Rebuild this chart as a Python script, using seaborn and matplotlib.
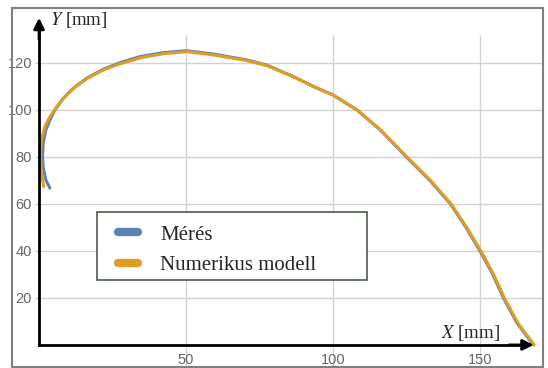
import matplotlib
matplotlib.use("Agg")
import matplotlib.pyplot as plt
import seaborn as sns
import pandas as pd
from matplotlib.patches import Rectangle
from matplotlib.legend_handler import HandlerLine2D

# ---- data ----
meres_x = [3.7, 2.3, 1.4, 1.2, 1.4, 2.3, 3.7, 5.4, 8.2, 11.6, 16.2, 21.8, 27.5, 34.3,
           42.3, 50.2, 59.4, 70.7, 77.5, 86.6, 93.4, 100.0, 108.2, 116.1, 124.9,
           133.0, 140.0, 145.3, 150.2, 154.4, 158.2, 162.7, 168.2]
meres_y = [66.7, 70.2, 75.9, 80.1, 85.8, 91.5, 95.7, 100.0, 104.9, 109.2, 113.5,
           117.3, 120.1, 122.7, 124.4, 125.2, 123.8, 121.3, 119.1, 114.2, 110.0,
           106.4, 100.0, 91.5, 80.1, 70.0, 60.0, 50.0, 39.7, 30.0, 19.6, 9.2, 0.0]
model_x = [1.6, 0.8, 0.5, 0.8, 2.0, 3.7, 5.7, 8.6, 12.0, 16.6, 22.2, 28.0, 34.8,
           42.6, 50.3, 59.5, 70.8, 77.7, 86.8, 93.6, 100.3, 108.5, 116.4, 125.2,
           133.3, 140.3, 145.6, 150.5, 154.7, 158.5, 163.0, 168.5]
model_y = [67.4, 73.0, 80.0, 87.2, 92.9, 97.1, 100.8, 105.4, 109.5, 113.6, 117.2,
           119.8, 122.3, 124.0, 124.8, 123.4, 121.0, 118.8, 114.0, 109.8, 106.2,
           99.8, 91.3, 80.0, 69.9, 59.9, 49.9, 39.7, 30.0, 19.6, 9.2, 0.0]
series_names = ["Mérés", "Numerikus modell"]
x_ticks = [50, 100, 150]
y_ticks = [20, 40, 60, 80, 100, 120]
x_label = "$X$ [mm]"
y_label = "$Y$ [mm]"

BLUE = "#5E81B5"
ORANGE = "#E19C24"

sns.set_theme(style="white")
plt.rcParams['font.family'] = ['Liberation Sans', 'DejaVu Sans']
plt.rcParams['mathtext.fontset'] = 'stix'

df = pd.concat([
    pd.DataFrame({"x": meres_x, "y": meres_y, "series": series_names[0]}),
    pd.DataFrame({"x": model_x, "y": model_y, "series": series_names[1]}),
], ignore_index=True)

W, H = 548, 368
AX_L, AX_T, AX_R, AX_B = 12, 8, 543, 367
fig = plt.figure(figsize=(W / 100, H / 100), dpi=100)
ax = fig.add_axes([AX_L / W, 1 - AX_B / H, (AX_R - AX_L) / W, (AX_B - AX_T) / H])

sns.lineplot(data=df, x="x", y="y", hue="series", palette=[BLUE, ORANGE],
             sort=False, estimator=None, lw=2.2, ax=ax, zorder=3)
for ln in ax.get_lines():
    ln.set_solid_joinstyle("round")
    ln.set_solid_capstyle("round")

ax.set_xlim(-9.2, 171.5)
ax.set_ylim(-9.4, 143.4)

# grid
ax.hlines(y_ticks, -1.5, 171.5, color="#d2d2d2", lw=1.0, zorder=0)
ax.vlines(x_ticks, -9.4, 132, color="#d2d2d2", lw=1.0, zorder=0)

# axes through origin
for s in ["top", "right"]:
    ax.spines[s].set_visible(False)
ax.spines["left"].set_position(("data", 0))
ax.spines["bottom"].set_position(("data", 0))
ax.spines["left"].set_bounds(0, 134)
ax.spines["bottom"].set_bounds(0, 163)
for s in ["left", "bottom"]:
    ax.spines[s].set_color("black")
    ax.spines[s].set_linewidth(2)
    ax.spines[s].set_zorder(4)
ax.annotate("", xy=(0, 139.2), xytext=(0, 130), xycoords="data",
            arrowprops=dict(arrowstyle="-|>", mutation_scale=16, color="black", lw=2,
                            shrinkA=0, shrinkB=0), zorder=5)
ax.annotate("", xy=(168.3, 0), xytext=(160, 0), xycoords="data",
            arrowprops=dict(arrowstyle="-|>", mutation_scale=16, color="black", lw=2,
                            shrinkA=0, shrinkB=0), zorder=5)

ax.set_xticks(x_ticks)
ax.set_yticks(y_ticks)
ax.set_xticks(range(0, 170, 10), minor=True)
ax.set_yticks(range(0, 140, 10), minor=True)
ax.tick_params(axis="both", which="major", direction="out", length=4, width=0.8,
               color="#888888", labelcolor="#666666", labelsize=10.5)
ax.tick_params(axis="both", which="minor", direction="in", length=2.5, width=0.6,
               color="#999999")
ax.tick_params(axis="y", which="major", pad=1)
ax.tick_params(axis="x", which="major", pad=1.5)
ax.set_xlabel("")
ax.set_ylabel("")

ax.text(3.7, 136.0, y_label, family="Liberation Serif", fontsize=13.5, va="baseline",
        ha="left")
ax.text(157.0, 3.0, x_label, family="Liberation Serif", fontsize=13.5, va="baseline",
        ha="right")

# outer frame
ax.add_patch(Rectangle((0, 0), 1, 1, transform=ax.transAxes, fill=False,
                       edgecolor="#808080", lw=1.5, clip_on=False, zorder=6))


def fx(px):
    return (px - AX_L) / (AX_R - AX_L)


def fy(py):
    return (AX_B - py) / (AX_B - AX_T)


# legend frame (drawn separately) and legend
ax.add_patch(Rectangle((fx(97), fy(280)), fx(367) - fx(97), fy(212) - fy(280),
                       transform=ax.transAxes, facecolor="white", edgecolor="#4d5e4d",
                       lw=1.2, zorder=6.5))
handles, labels = ax.get_legend_handles_labels()
leg = ax.legend(handles, labels, loc="lower left",
                bbox_to_anchor=(fx(97), fy(286)),
                borderaxespad=0, frameon=False,
                prop=dict(family="Liberation Serif", size=15), handlelength=1.45,
                handletextpad=1.06, borderpad=0.52, labelspacing=0.53,
                handler_map={h: HandlerLine2D(xpad=0.5) for h in handles})
for lh in leg.get_lines():
    lh.set_linewidth(6)
    lh.set_solid_capstyle("round")
leg.set_zorder(7)

fig.savefig("out.png", dpi=100, facecolor="white")
